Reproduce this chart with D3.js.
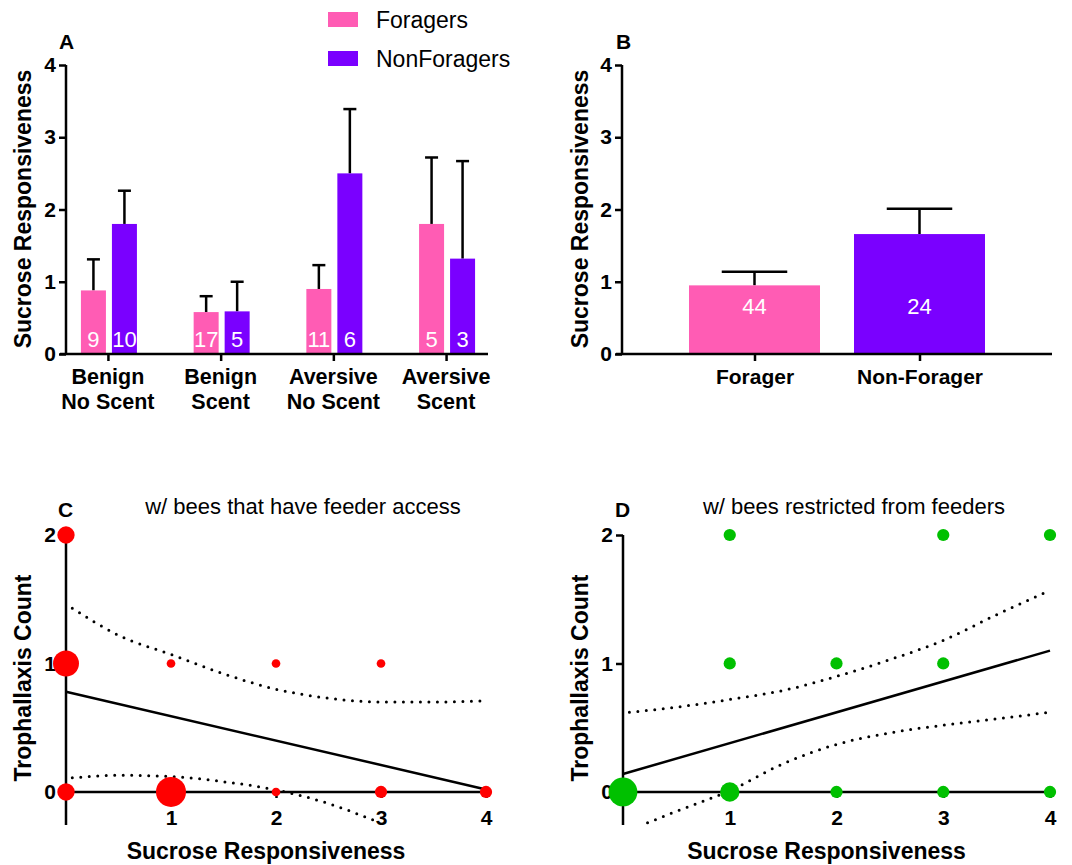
<!DOCTYPE html>
<html>
<head>
<meta charset="utf-8">
<script src="https://cdn.jsdelivr.net/npm/d3@7"></script>
<style>
  body { margin: 0; background: #fff; }
  svg { font-family: "Liberation Sans", Arial, sans-serif; }
  .axis path, .axis line { stroke: #000; stroke-width: 2.5px; }
  .axis text { font-size: 21px; font-weight: bold; fill: #000; }
</style>
</head>
<body>
<svg id="fig" width="1072" height="865"></svg>
<script>
// ---- panel A data ----
const groupsA = ["Benign\nNo Scent", "Benign\nScent", "Aversive\nNo Scent", "Aversive\nScent"];
const foragerMean = [0.88, 0.58, 0.90, 1.80];
const foragerErr = [1.31, 0.80, 1.23, 2.72];
const foragerN = [9, 17, 11, 5];
const nonForagerMean = [1.80, 0.59, 2.50, 1.32];
const nonForagerErr = [2.26, 1.00, 3.39, 2.67];
const nonForagerN = [10, 5, 6, 3];

// ---- panel B data ----
const groupsB = ["Forager", "Non-Forager"];
const meanB = [0.95, 1.66];
const errB = [1.14, 2.01];
const nB = [44, 24];

// ---- panel C data ----
const srC = [0, 0, 0, 1, 1, 2, 2, 3, 3, 4];
const tcC = [2, 1, 0, 0, 1, 0, 1, 0, 1, 0];
const countC = [4, 9, 4, 12, 1, 1, 1, 2, 1, 2];
const fitC = [[0, 0.78], [4, 0.02]];
const upperC = [[0.06, 1.43], [0.5, 1.22], [1, 1.07], [1.5, 0.92], [2, 0.80], [2.5, 0.73], [3, 0.70], [3.5, 0.70], [4, 0.71]];
const lowerC = [[0.06, 0.11], [0.5, 0.13], [1, 0.12], [1.5, 0.08], [2, 0.016], [2.5, -0.09], [2.93, -0.22]];

// ---- panel D data ----
const srD = [1, 3, 4, 1, 2, 3, 0, 1, 2, 3, 4];
const tcD = [2, 2, 2, 1, 1, 1, 0, 0, 0, 0, 0];
const countD = [2, 2, 2, 2, 2, 2, 11, 5, 2, 2, 2];
const fitD = [[0, 0.14], [4, 1.10]];
const upperD = [[0.06, 0.62], [0.5, 0.66], [1, 0.72], [1.5, 0.79], [2, 0.90], [2.5, 1.03], [3, 1.18], [3.5, 1.38], [4, 1.57]];
const lowerD = [[0.23, -0.24], [0.5, -0.15], [1, 0.01], [1.5, 0.22], [2, 0.37], [2.5, 0.46], [3, 0.52], [3.5, 0.57], [4, 0.62]];

const pink = "#ff5cb4", purple = "#7a00ff";
const svg = d3.select("#fig");
svg.append("rect").attr("width", 1072).attr("height", 865).attr("fill", "#fff");

const yBar = d3.scaleLinear().domain([0, 4]).range([354, 65]);

function yTitle(g, x, y, txt) {
    g.append("text")
        .attr("transform", `translate(${x},${y}) rotate(-90)`)
        .attr("text-anchor", "middle")
        .attr("font-size", 23).attr("font-weight", "bold")
        .text(txt);
}

function errBar(g, cx, top, errTop, halfCap) {
    g.append("line").attr("x1", cx).attr("x2", cx)
        .attr("y1", top).attr("y2", errTop)
        .attr("stroke", "#000").attr("stroke-width", 2.5);
    g.append("line").attr("x1", cx - halfCap).attr("x2", cx + halfCap)
        .attr("y1", errTop).attr("y2", errTop)
        .attr("stroke", "#000").attr("stroke-width", 2.5);
}

// ================= Panel A =================
{
    const g = svg.append("g");
    const x = d3.scalePoint().domain(groupsA).range([66, 488]).padding(0.372);
    const bw = 25;
    const series = [
        { mean: foragerMean, err: foragerErr, n: foragerN, col: pink, off: -27 },
        { mean: nonForagerMean, err: nonForagerErr, n: nonForagerN, col: purple, off: 4 }
    ];

    series.forEach(s => {
        groupsA.forEach((grp, i) => {
            const x0 = x(grp) + s.off;
            errBar(g, x0 + bw / 2, yBar(s.mean[i]), yBar(s.err[i]), 6.5);
            g.append("rect").attr("x", x0).attr("y", yBar(s.mean[i]))
                .attr("width", bw).attr("height", yBar(0) - yBar(s.mean[i]))
                .attr("fill", s.col);
            g.append("text").attr("x", x0 + bw / 2).attr("y", 347)
                .attr("text-anchor", "middle").attr("fill", "#fff")
                .attr("font-size", 22).text(s.n[i]);
        });
    });

    const ya = g.append("g").attr("class", "axis").attr("transform", "translate(66,0)")
        .call(d3.axisLeft(yBar).ticks(4).tickSize(7).tickPadding(3).tickFormat(d3.format("d")));
    ya.select(".domain").attr("d", `M0,${yBar(4)}V${yBar(0)}`);

    const xa = g.append("g").attr("class", "axis").attr("transform", "translate(0,354)")
        .call(d3.axisBottom(x).tickSize(7).tickFormat(""));
    xa.select(".domain").attr("d", "M60,0H488");
    groupsA.forEach(grp => {
        const lines = grp.split("\n");
        const t = g.append("text").attr("text-anchor", "middle")
            .attr("font-size", 21.5).attr("font-weight", "bold");
        lines.forEach((l, k) => t.append("tspan").attr("x", x(grp)).attr("y", 384 + k * 25).text(l));
    });

    yTitle(g, 31, 209, "Sucrose Responsiveness");
    g.append("text").attr("x", 59).attr("y", 49).attr("font-size", 21).attr("font-weight", "bold").text("A");

    // legend
    const legend = [["Foragers", pink], ["NonForagers", purple]];
    legend.forEach(([name, col], i) => {
        g.append("rect").attr("x", 328).attr("y", 12 + i * 39).attr("width", 30).attr("height", 15).attr("fill", col);
        g.append("text").attr("x", 376).attr("y", 28 + i * 39).attr("font-size", 23).text(name);
    });
}

// ================= Panel B =================
{
    const g = svg.append("g");
    const x = d3.scalePoint().domain(groupsB).range([622, 1052]).padding(0.803);
    const bw = 131;
    groupsB.forEach((grp, i) => {
        const cx = x(grp);
        errBar(g, cx, yBar(meanB[i]), yBar(errB[i]), bw / 4);
        g.append("rect").attr("x", cx - bw / 2).attr("y", yBar(meanB[i]))
            .attr("width", bw).attr("height", yBar(0) - yBar(meanB[i]))
            .attr("fill", i === 0 ? pink : purple);
        g.append("text").attr("x", cx).attr("y", 314)
            .attr("text-anchor", "middle").attr("fill", "#fff")
            .attr("font-size", 22).text(nB[i]);
    });

    const ya = g.append("g").attr("class", "axis").attr("transform", "translate(622,0)")
        .call(d3.axisLeft(yBar).ticks(4).tickSize(7).tickPadding(3).tickFormat(d3.format("d")));
    ya.select(".domain").attr("d", `M0,${yBar(4)}V${yBar(0)}`);

    const xa = g.append("g").attr("class", "axis").attr("transform", "translate(0,354)")
        .call(d3.axisBottom(x).tickSize(7).tickPadding(8));
    xa.select(".domain").attr("d", "M616,0H1052");
    xa.selectAll("text").attr("font-size", 21.5);

    yTitle(g, 588, 209, "Sucrose Responsiveness");
    g.append("text").attr("x", 616).attr("y", 49).attr("font-size", 21).attr("font-weight", "bold").text("B");
}

// ================= Panels C & D =================
function scatterPanel(opts) {
    const g = svg.append("g");
    const x = d3.scaleLinear().domain([0, 4]).range([opts.left, opts.right]);
    const y = d3.scaleLinear().domain([-0.257, 2]).range([825, 535]);
    const r = d3.scaleSqrt().domain([0, 12]).range([0, 15]);
    const line = d3.line().x(d => x(d[0])).y(d => y(d[1]));
    const curve = d3.line().x(d => x(d[0])).y(d => y(d[1])).curve(d3.curveMonotoneX);

    // y axis
    const ya = g.append("g").attr("class", "axis").attr("transform", `translate(${opts.left},0)`)
        .call(d3.axisLeft(y).tickValues([0, 1, 2]).tickSize(7).tickPadding(3).tickFormat(d3.format("d")));
    ya.select(".domain").attr("d", `M0,${y(2)}V${y(-0.257)}`);

    // x axis on the zero line
    const xa = g.append("g").attr("class", "axis").attr("transform", `translate(0,${y(0)})`)
        .call(d3.axisBottom(x).tickValues([1, 2, 3, 4]).tickSize(6).tickPadding(12).tickFormat(d3.format("d")));
    xa.select(".domain").attr("d", `M${opts.left},0H${opts.right}`);

    g.append("path").datum(opts.fit).attr("d", line)
        .attr("fill", "none").attr("stroke", "#000").attr("stroke-width", 2.5);
    [opts.upper, opts.lower].forEach(band => {
        g.append("path").datum(band).attr("d", curve)
            .attr("fill", "none").attr("stroke", "#000").attr("stroke-width", 3)
            .attr("stroke-linecap", "round").attr("stroke-dasharray", "0 8.5");
    });

    g.selectAll("circle.pt").data(opts.sr).join("circle")
        .attr("class", "pt")
        .attr("cx", d => x(d))
        .attr("cy", (d, i) => y(opts.tc[i]))
        .attr("r", (d, i) => r(opts.n[i]))
        .attr("fill", opts.col);

    yTitle(g, opts.left - 35, 678, "Trophallaxis Count");
    g.append("text").attr("x", (opts.left + opts.right) / 2 - 10).attr("y", 859)
        .attr("text-anchor", "middle").attr("font-size", 23).attr("font-weight", "bold")
        .text("Sucrose Responsiveness");
    g.append("text").attr("x", opts.left - 8).attr("y", 517).attr("font-size", 21)
        .attr("font-weight", "bold").text(opts.letter);
    g.append("text").attr("x", opts.titleX).attr("y", 514).attr("text-anchor", "middle")
        .attr("font-size", 22).text(opts.title);
}

scatterPanel({
    left: 66, right: 486, sr: srC, tc: tcC, n: countC, col: "#ff0000",
    fit: fitC, upper: upperC, lower: lowerC, letter: "C",
    title: "w/ bees that have feeder access", titleX: 303
});
scatterPanel({
    left: 623, right: 1050, sr: srD, tc: tcD, n: countD, col: "#00c000",
    fit: fitD, upper: upperD, lower: lowerD, letter: "D",
    title: "w/ bees restricted from feeders", titleX: 854
});
</script>
</body>
</html>
